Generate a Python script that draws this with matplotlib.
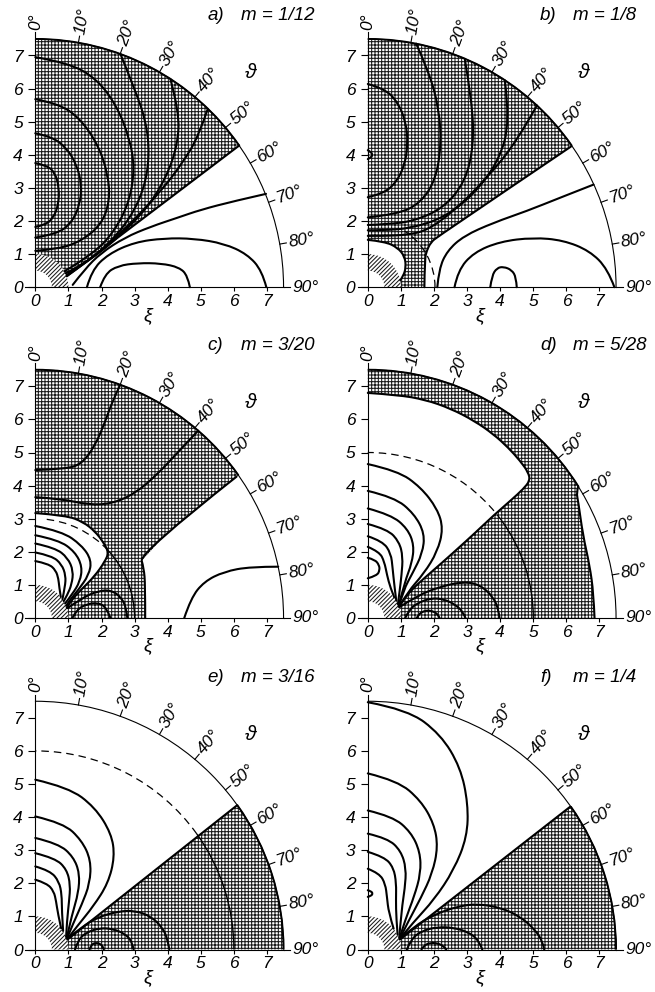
import numpy as np
import matplotlib
matplotlib.use('Agg')
import matplotlib.pyplot as plt
from matplotlib.patches import Polygon, Arc, Wedge, PathPatch
from matplotlib.path import Path

plt.rcParams['font.family'] = ['Liberation Sans', 'DejaVu Sans']
plt.rcParams['hatch.linewidth'] = 0.75

R = 7.5
TICKS = [0, 1, 2, 3, 4, 5, 6, 7]
ANGLES = [0, 10, 20, 30, 40, 50, 60, 70, 80, 90]
LETTERS = ['a', 'b', 'c', 'd', 'e', 'f']
M_VALUES = ['1/12', '1/8', '3/20', '5/28', '3/16', '1/4']

# ---- a) m=1/12 : hatched sector on the left
A_EDGE = [(6.16, 4.28), (0.95, 0.33)]
A_INNER = [(0, 1.0)]
A_LINES = [
    [(0, 3.75), (0.35, 3.68), (0.6, 3.45), (0.72, 3.0), (0.7, 2.5), (0.55, 2.1), (0.3, 1.88), (0, 1.82)],
    [(0, 4.65), (0.5, 4.55), (0.95, 4.2), (1.25, 3.7), (1.4, 3.1), (1.35, 2.5), (1.1, 1.95), (0.65, 1.6), (0, 1.5)],
    [(0, 5.68), (0.7, 5.55), (1.35, 5.1), (1.9, 4.3), (2.2, 3.4), (2.25, 2.6), (2.0, 1.9), (1.4, 1.4), (0.7, 1.15), (0, 1.1)],
    [(0, 6.95), (1.0, 6.78), (1.85, 6.3), (2.45, 5.5), (2.85, 4.5), (3.0, 3.6), (2.85, 2.6), (2.4, 1.7), (1.75, 1.0), (0.88, 0.48)],
    [(2.57, 7.05), (3.0, 6.0), (3.35, 5.0), (3.45, 4.0), (3.3, 3.0), (2.85, 2.05), (2.2, 1.3), (1.55, 0.75), (0.92, 0.42)],
    [(4.08, 6.29), (4.35, 5.3), (4.3, 4.3), (3.95, 3.3), (3.35, 2.35), (2.5, 1.5), (1.7, 0.85), (0.95, 0.37)],
    [(5.21, 5.39), (4.95, 4.6), (4.45, 3.75), (3.75, 2.85), (2.95, 2.0), (2.1, 1.2), (1.5, 0.72), (0.97, 0.35)],
    [(1.13, 0.07), (1.5, 0.55), (1.98, 1.03), (2.7, 1.5), (3.49, 1.83), (4.3, 2.1), (5.0, 2.34), (6.0, 2.6), (6.97, 2.82)],
    [(1.56, 0), (1.7, 0.5), (2.2, 1.0), (3.0, 1.36), (3.9, 1.48), (4.8, 1.47), (5.7, 1.32), (6.4, 1.0), (6.85, 0.5), (6.98, 0)],
    [(1.96, 0), (2.1, 0.4), (2.5, 0.65), (3.1, 0.73), (3.8, 0.72), (4.35, 0.6), (4.6, 0.35), (4.67, 0)],
]
A_DASH = None

# ---- b) m=1/8
B_EDGE = [(6.14, 4.25), (2.11, 1.53), (1.9, 1.35), (1.78, 1.1), (1.72, 0.85), (1.71, 0)]
B_INNER = [(0, 1.43), (0.5, 1.38), (0.9, 1.2), (1.12, 0.92), (1.15, 0.6), (1.08, 0.35), (0.98, 0.21)]
B_LINES = [
    [(0, 4.14), (0.1, 4.08), (0.14, 4.0), (0.1, 3.92), (0, 3.87)],
    [(0, 6.14), (0.5, 6.0), (0.9, 5.6), (1.15, 5.0), (1.21, 4.35), (1.12, 3.7), (0.85, 3.15), (0.45, 2.82), (0, 2.72)],
    [(1.46, 7.36), (1.85, 6.5), (2.15, 5.4), (2.22, 4.3), (2.05, 3.25), (1.6, 2.55), (0.9, 2.2), (0, 2.11)],
    [(2.93, 6.9), (3.15, 5.6), (3.2, 4.3), (2.95, 3.2), (2.3, 2.4), (1.4, 2.0), (0.6, 1.9), (0, 1.88)],
    [(4.14, 6.25), (4.3, 5.0), (3.95, 3.8), (3.2, 2.8), (2.3, 2.1), (1.3, 1.78), (0.5, 1.72), (0, 1.72)],
    [(5.11, 5.49), (4.5, 4.4), (3.6, 3.3), (2.6, 2.3), (1.8, 1.72), (1.2, 1.58), (0.5, 1.55), (0, 1.55)],
    [(2.1, 0), (2.15, 0.55), (2.4, 1.1), (2.9, 1.55), (3.8, 1.95), (4.8, 2.3), (5.8, 2.7), (6.82, 3.1)],
    [(2.62, 0), (2.72, 0.5), (3.2, 1.05), (4.0, 1.38), (5.0, 1.5), (5.9, 1.42), (6.7, 1.1), (7.25, 0.55), (7.45, 0)],
    [(3.7, 0), (3.75, 0.35), (3.9, 0.58), (4.1, 0.62), (4.35, 0.52), (4.48, 0.3), (4.5, 0)],
]
B_DASH = (2.03, 33, 90)

# ---- c) m=3/20
C_EDGE = [(6.08, 4.27), (3.15, 1.96), (3.28, 1.5), (3.32, 1.0), (3.32, 0)]
C_INNER = [(0, 3.17), (0.93, 3.1), (1.45, 2.9), (1.8, 2.62), (2.05, 2.3), (2.22, 1.98), (2.1, 1.7),
           (1.79, 1.26), (1.39, 0.86), (1.1, 0.55), (0.95, 0.31)]
C_LINES = [
    [(0, 3.65), (0.8, 3.6), (1.6, 3.42), (2.3, 3.45), (3.0, 3.75), (3.7, 4.35), (4.3, 5.0), (4.92, 5.66)],
    [(0, 4.47), (0.9, 4.5), (1.4, 4.65), (1.8, 5.2), (2.1, 5.9), (2.35, 6.6), (2.57, 7.05)],
    [(0, 2.78), (0.8, 2.62), (1.4, 2.2), (1.7, 1.75), (1.62, 1.3), (1.3, 0.85), (1.05, 0.55), (0.93, 0.37)],
    [(0, 2.5), (0.7, 2.36), (1.2, 2.0), (1.42, 1.55), (1.35, 1.1), (1.12, 0.72), (0.9, 0.44)],
    [(0, 2.25), (0.6, 2.12), (0.98, 1.82), (1.15, 1.42), (1.1, 1.02), (0.97, 0.7), (0.86, 0.51)],
    [(0, 1.98), (0.5, 1.88), (0.8, 1.62), (0.92, 1.28), (0.9, 0.95), (0.82, 0.57)],
    [(0, 1.72), (0.4, 1.64), (0.62, 1.44), (0.7, 1.18), (0.72, 0.95), (0.77, 0.64)],
    [(0.98, 0.3), (1.4, 0.6), (1.9, 0.82), (2.3, 0.84), (2.6, 0.62), (2.75, 0.3), (2.78, 0)],
    [(1.12, 0), (1.25, 0.25), (1.55, 0.42), (1.9, 0.46), (2.15, 0.32), (2.27, 0)],
    [(4.5, 0), (4.7, 0.6), (5.1, 1.1), (5.7, 1.4), (6.5, 1.55), (7.34, 1.55)],
]
C_DASH = (3.0, 4, 47)

# ---- d) m=5/28
D_EDGE = [(6.36, 3.97), (6.3, 3.8), (6.36, 3.5), (6.5, 2.5), (6.7, 1.6), (6.82, 0.75), (6.85, 0)]
D_INNER = [(0, 6.8), (0.9, 6.74), (1.72, 6.6), (2.5, 6.33), (3.23, 5.95), (3.8, 5.55), (4.24, 5.15),
           (4.6, 4.75), (4.85, 4.4), (4.9, 4.15), (4.7, 3.9), (4.34, 3.57), (3.8, 3.1), (3.23, 2.56),
           (2.7, 2.08), (2.22, 1.65), (1.7, 1.2), (1.31, 0.84), (1.05, 0.5), (0.94, 0.34)]
D_LINES = [
    [(0, 4.65), (0.9, 4.45), (1.6, 3.95), (2.1, 3.3), (2.28, 2.7), (2.1, 2.0), (1.7, 1.35), (1.2, 0.78), (0.95, 0.35)],
    [(0, 3.84), (0.8, 3.65), (1.4, 3.15), (1.72, 2.55), (1.65, 1.95), (1.35, 1.35), (1.08, 0.85), (0.94, 0.35)],
    [(0, 3.31), (0.7, 3.12), (1.2, 2.7), (1.4, 2.2), (1.33, 1.65), (1.12, 1.1), (0.93, 0.37)],
    [(0, 2.84), (0.6, 2.68), (0.95, 2.3), (1.06, 1.85), (1.02, 1.3), (0.96, 0.8), (0.91, 0.42)],
    [(0, 2.47), (0.45, 2.32), (0.7, 1.95), (0.75, 1.5), (0.8, 1.0), (0.86, 0.52)],
    [(0, 2.15), (0.35, 2.0), (0.5, 1.7), (0.58, 1.3), (0.68, 0.92), (0.8, 0.62)],
    [(0, 1.82), (0.22, 1.76), (0.34, 1.6), (0.36, 1.45), (0.28, 1.28), (0, 1.2)],
    [(0.96, 0.33), (1.5, 0.68), (2.2, 0.95), (2.9, 1.1), (3.4, 1.0), (3.8, 0.62), (3.95, 0.25), (3.98, 0)],
    [(1.13, 0), (1.25, 0.25), (1.5, 0.45), (1.9, 0.6), (2.3, 0.57), (2.65, 0.4), (2.88, 0.18), (2.95, 0)],
    [(1.48, 0), (1.55, 0.13), (1.7, 0.21), (1.85, 0.23), (2.0, 0.19), (2.12, 0.1), (2.17, 0)],
]
D_DASH = (5.0, 0, 54)

# ---- e) m=3/16 : hatched sector on the right
E_EDGE = [(0.97, 0.3), (6.1, 4.36)]
E_LINES = [
    [(0, 5.13), (1.0, 4.9), (1.8, 4.3), (2.3, 3.5), (2.4, 2.8), (2.2, 2.0), (1.75, 1.3), (1.3, 0.75), (0.97, 0.32)],
    [(0, 4.02), (0.85, 3.82), (1.4, 3.3), (1.68, 2.7), (1.65, 2.0), (1.4, 1.35), (1.15, 0.8), (0.96, 0.34)],
    [(0, 3.37), (0.7, 3.2), (1.15, 2.8), (1.34, 2.3), (1.3, 1.7), (1.12, 1.1), (0.95, 0.36)],
    [(0, 2.91), (0.6, 2.76), (0.95, 2.42), (1.06, 1.95), (1.02, 1.45), (0.96, 0.9), (0.93, 0.38)],
    [(0, 2.51), (0.45, 2.38), (0.72, 2.05), (0.8, 1.65), (0.8, 1.2), (0.84, 0.56)],
    [(0, 2.11), (0.35, 2.0), (0.56, 1.76), (0.63, 1.45), (0.68, 1.1), (0.78, 0.64)],
    [(0.98, 0.33), (1.4, 0.68), (1.9, 0.98), (2.5, 1.15), (3.0, 1.18), (3.5, 1.0), (3.85, 0.65), (4.0, 0.3), (4.05, 0)],
    [(1.2, 0), (1.3, 0.3), (1.55, 0.52), (1.95, 0.65), (2.35, 0.62), (2.7, 0.48), (2.92, 0.25), (2.97, 0)],
    [(1.64, 0), (1.68, 0.13), (1.8, 0.2), (1.95, 0.18), (2.05, 0.08), (2.07, 0)],
]
E_DASH = (6.0, 0, 54.4)

# ---- f) m=1/4
F_EDGE = [(0.97, 0.3), (6.11, 4.31)]
F_LINES = [
    [(0, 7.47), (1.2, 7.25), (2.2, 6.5), (2.8, 5.5), (3.03, 4.4), (3.0, 3.4), (2.6, 2.4), (2.0, 1.5), (1.4, 0.85), (0.97, 0.33)],
    [(0, 5.32), (0.9, 5.1), (1.6, 4.5), (2.0, 3.8), (2.12, 3.1), (1.95, 2.3), (1.6, 1.55), (1.25, 0.9), (0.97, 0.34)],
    [(0, 4.2), (0.75, 4.02), (1.3, 3.55), (1.58, 2.95), (1.6, 2.3), (1.4, 1.6), (1.15, 0.95), (0.96, 0.35)],
    [(0, 3.5), (0.6, 3.36), (1.0, 2.98), (1.16, 2.45), (1.12, 1.85), (1.02, 1.2), (0.95, 0.36)],
    [(0, 2.95), (0.5, 2.8), (0.78, 2.47), (0.86, 2.0), (0.85, 1.5), (0.86, 0.95), (0.9, 0.45)],
    [(0, 2.44), (0.35, 2.3), (0.53, 1.98), (0.58, 1.58), (0.63, 1.12), (0.78, 0.63)],
    [(0, 1.79), (0.1, 1.76), (0.15, 1.69), (0.1, 1.62), (0, 1.59)],
    [(0.98, 0.33), (1.4, 0.7), (2.0, 1.05), (2.7, 1.3), (3.3, 1.38), (4.0, 1.27), (4.6, 1.0), (5.05, 0.6), (5.28, 0.25), (5.33, 0)],
    [(1.18, 0), (1.3, 0.3), (1.62, 0.56), (2.1, 0.68), (2.6, 0.66), (3.05, 0.52), (3.35, 0.28), (3.46, 0)],
    [(1.62, 0), (1.7, 0.13), (1.9, 0.2), (2.1, 0.19), (2.3, 0.1), (2.37, 0)],
]
F_DASH = None

EDGES = [A_EDGE, B_EDGE, C_EDGE, D_EDGE, E_EDGE, F_EDGE]
INNERS = [A_INNER, B_INNER, C_INNER, D_INNER, None, None]
LINES = [A_LINES, B_LINES, C_LINES, D_LINES, E_LINES, F_LINES]
DASHES = [A_DASH, B_DASH, C_DASH, D_DASH, E_DASH, F_DASH]

# pixel layout of the six quarter plots
U = 33.1
ORIGINS = [(35.3, 287.2), (367.8, 287.2), (35.3, 618.0), (367.8, 618.0), (35.3, 949.5), (367.8, 949.5)]


def ang(p):
    # angle measured from the vertical axis, like the figure
    return np.degrees(np.arctan2(p[0], p[1]))


def arc_pts(r, t0, t1, n=80):
    t = np.radians(np.linspace(t0, t1, n))
    return np.column_stack([r * np.sin(t), r * np.cos(t)])


def smooth(pts):
    # quadratic bezier path through the read points (library does the curve)
    p = np.asarray(pts, float)
    if len(p) < 3:
        return Path(p)
    verts, codes = [p[0]], [Path.MOVETO]
    for i in range(1, len(p) - 1):
        end = (p[i] + p[i + 1]) / 2 if i < len(p) - 2 else p[i + 1]
        verts += [p[i], end]
        codes += [Path.CURVE3, Path.CURVE3]
    return Path(verts, codes)


def flat(pts):
    return smooth(pts).to_polygons(closed_only=False)[0]


def left_region(edge, inner):
    e = flat(edge)
    i = flat(inner) if len(inner) > 1 else np.array(inner, float)
    parts = [[[0, i[0, 1]], [0, R]], arc_pts(R, 0, ang(e[0])), e]
    if e[-1, 1] == 0:
        parts += [[[1, 0]], arc_pts(1, 90, ang(i[-1]))]
    else:
        parts += [arc_pts(1, ang(e[-1]), ang(i[-1]))]
    parts.append(i[::-1])
    return np.vstack(parts)


def right_region(edge):
    e = np.array(edge, float)
    return np.vstack([e, arc_pts(R, ang(e[-1]), 90), [[1, 0]], arc_pts(1, 90, ang(e[0]))])


def curve(ax, pts, lw=1.5):
    ax.add_patch(PathPatch(smooth(pts), fill=False, edgecolor='k', lw=lw,
                           capstyle='round', joinstyle='round', zorder=3))


fig = plt.figure(figsize=(6.55, 9.92), dpi=100)

for k in range(6):
    ox, oy = ORIGINS[k]
    ax = fig.add_axes([(ox - 1.0 * U) / 655, (992 - oy - 1.2 * U) / 992, 10 * U / 655, 10 * U / 992])
    ax.set_xlim(-1.0, 9.0)
    ax.set_ylim(-1.2, 8.8)
    ax.patch.set_visible(False)

    edge = np.array(EDGES[k], float)
    inner = INNERS[k]
    if inner is not None:
        poly = left_region(EDGES[k], inner)
        rim_t = (0, ang(edge[0]))
    else:
        poly = right_region(EDGES[k])
        rim_t = (ang(edge[-1]), 90)
    ax.add_patch(Polygon(poly, closed=True, facecolor='none', edgecolor='0.1',
                         hatch='+++++', lw=0, zorder=1))

    # small hatched unit disc
    ax.add_patch(Wedge((0, 0), 1.0, 0, 90, width=0.5, facecolor='none', edgecolor='0.1',
                       hatch='////////', lw=0, zorder=1))

    # rim: thin everywhere, heavier where the hatching touches it
    ax.add_patch(Arc((0, 0), 2 * R, 2 * R, theta1=0, theta2=90, color='k', lw=0.8, zorder=3))
    ax.add_patch(Arc((0, 0), 2 * R, 2 * R, theta1=90 - rim_t[1], theta2=90 - rim_t[0],
                     color='k', lw=1.4, zorder=3))

    # boundaries of the hatched area
    curve(ax, EDGES[k])
    if inner is not None and len(inner) > 1:
        curve(ax, inner)

    for ln in LINES[k]:
        curve(ax, ln)

    if DASHES[k] is not None:
        r, t0, t1 = DASHES[k]
        ax.add_patch(Arc((0, 0), 2 * r, 2 * r, theta1=90 - t1, theta2=90 - t0, color='k',
                         lw=0.9, linestyle=(0, (6, 4)), zorder=3))
        if t1 < 90:
            ax.add_patch(Arc((0, 0), 2 * r, 2 * r, theta1=0, theta2=90 - t1, color='k',
                             lw=1.0, zorder=3))

    # angle scale
    for a in ANGLES:
        s, c = np.sin(np.radians(a)), np.cos(np.radians(a))
        ax.plot([R * s, (R + 0.2) * s], [R * c, (R + 0.2) * c], color='k', lw=0.8)
        ax.text((R + 0.27) * s, (R + 0.27) * c, '%d°' % a, rotation=90 - a,
                rotation_mode='anchor', ha='left', va='center', fontsize=12.5,
                fontstyle='italic')
    ax.text(6.5, 6.5, 'ϑ', fontsize=15, fontstyle='italic', ha='center', va='center')

    # axes
    for side in ['top', 'right']:
        ax.spines[side].set_visible(False)
    ax.spines['left'].set_position(('data', 0))
    ax.spines['left'].set_bounds(0, R)
    ax.spines['bottom'].set_position(('data', 0))
    ax.spines['bottom'].set_bounds(-0.3, R)
    for side in ['left', 'bottom']:
        ax.spines[side].set_linewidth(0.8)
        ax.spines[side].set_zorder(4)
    ax.set_xticks(TICKS)
    ax.set_yticks(TICKS)
    ax.set_xticklabels([str(t) for t in TICKS], fontstyle='italic', fontsize=12.5)
    ax.set_yticklabels([str(t) for t in TICKS], fontstyle='italic', fontsize=12.5)
    ax.tick_params(axis='y', direction='out', length=5, width=0.8, pad=4)
    ax.tick_params(axis='x', direction='out', length=3, width=0.8, pad=2)

    ax.text(3.4, -0.85, 'ξ', fontsize=14, fontstyle='italic', ha='center', va='center')
    ax.text(5.2, 8.22, LETTERS[k] + ')', fontsize=13.5, fontstyle='italic', ha='left', va='center')
    ax.text(6.2, 8.22, 'm = ' + M_VALUES[k], fontsize=13.5, fontstyle='italic', ha='left', va='center')

fig.savefig('out.png', dpi=100)
